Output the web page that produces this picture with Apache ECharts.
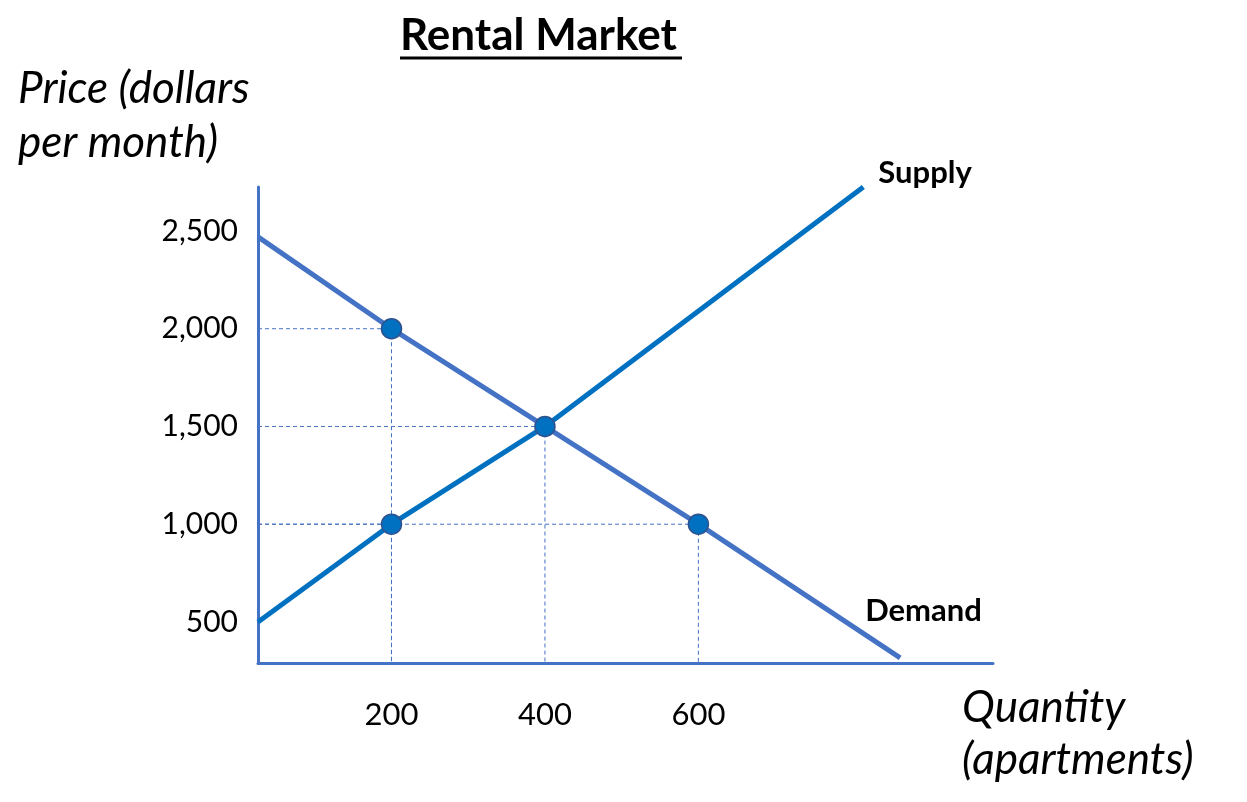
<!DOCTYPE html>
<html><head><meta charset="utf-8">
<script src="https://cdn.jsdelivr.net/npm/echarts@6/dist/echarts.min.js"></script>
<style>html,body{margin:0;padding:0;background:#fff}#c{width:1247px;height:802px}</style>
</head><body><div id="c"></div>
<script>
// ---- data ----
const titleText = 'Rental Market';
const priceAxisName = 'Price (dollars\nper month)';
const quantityAxisName = 'Quantity\n(apartments)';
const quantityTicks = [200, 400, 600];
const priceTicks = [500, 1000, 1500, 2000, 2500];
const quantityRange = [26, 984];
const priceRange = [290, 2725];
const demandName = 'Demand';
const supplyName = 'Supply';
const demandCurve = [[26, 2470], [200, 2000], [400, 1500], [600, 1000], [863, 316]];
const supplyCurve = [[26, 500], [200, 1000], [400, 1500], [815, 2725]];
const marketPoints = [[200, 2000], [400, 1500], [200, 1000], [600, 1000]];

// ---- chart ----
const FONT = 'Lato';
const chart = echarts.init(document.getElementById('c'), null, {renderer: 'canvas'});

const guideSeries = marketPoints.map(p => ({
  type: 'line',
  silent: true,
  symbol: 'none',
  z: 1,
  lineStyle: {color: '#4472C4', width: 1, type: [4, 3]},
  data: [[quantityRange[0], p[1]], [p[0], p[1]], [p[0], priceRange[0]]]
}));

const option = {
  animation: false,
  backgroundColor: '#fff',
  title: [
    {text: titleText, left: 400, top: 14, padding: 0,
     textStyle: {fontFamily: FONT, fontWeight: 'bold', fontSize: 44, color: '#000'}},
    {text: priceAxisName, left: 18, top: 62, padding: 0,
     textStyle: {fontFamily: FONT, fontStyle: 'italic', fontWeight: 'normal', fontSize: 44, lineHeight: 54, color: '#000'}},
    {text: quantityAxisName, left: 962, top: 682, padding: 0,
     textStyle: {fontFamily: FONT, fontStyle: 'italic', fontWeight: 'normal', fontSize: 44, lineHeight: 52, color: '#000'}}
  ],
  graphic: [
    {type: 'line', shape: {x1: 400, y1: 58, x2: 682, y2: 58}, style: {stroke: '#000', lineWidth: 3}}
  ],
  grid: {left: 258, right: 254, top: 187, bottom: 139, containLabel: false},
  xAxis: {
    type: 'value', min: quantityRange[0], max: quantityRange[1],
    axisLine: {show: true, onZero: false, lineStyle: {color: '#4472C4', width: 3}},
    axisTick: {show: false}, splitLine: {show: false},
    axisLabel: {customValues: quantityTicks, margin: 36, fontSize: 31, fontFamily: FONT, color: '#000'}
  },
  yAxis: {
    type: 'value', min: priceRange[0], max: priceRange[1],
    axisLine: {show: true, onZero: false, lineStyle: {color: '#4472C4', width: 3}},
    axisTick: {show: false}, splitLine: {show: false},
    axisLabel: {customValues: priceTicks, margin: 20, fontSize: 30, fontFamily: FONT, color: '#000',
      formatter: v => Number(v).toLocaleString('en-US')}
  },
  series: [
    ...guideSeries,
    {
      name: demandName, type: 'line', symbol: 'none', z: 3,
      lineStyle: {color: '#4472C4', width: 5},
      data: demandCurve,
      endLabel: {show: true, formatter: demandName, offset: [-43, -47],
        fontFamily: FONT, fontWeight: 'bold', fontSize: 31, color: '#000'}
    },
    {
      name: supplyName, type: 'line', symbol: 'none', z: 3,
      lineStyle: {color: '#0070C0', width: 5},
      data: supplyCurve,
      endLabel: {show: true, formatter: supplyName, offset: [7, -14],
        fontFamily: FONT, fontWeight: 'bold', fontSize: 31, color: '#000'}
    },
    {
      type: 'scatter', z: 5, symbol: 'circle', symbolSize: 20,
      itemStyle: {color: '#0070C0', borderColor: '#2F528F', borderWidth: 1.5, opacity: 1},
      data: marketPoints
    }
  ]
};
chart.setOption(option);
</script>
</body></html>
